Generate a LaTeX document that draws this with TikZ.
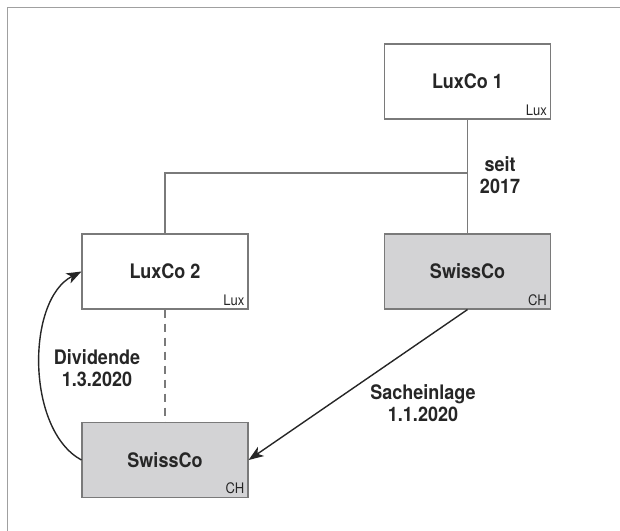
\documentclass[tikz,border=0pt]{standalone}
\usepackage{fontspec}
\setmainfont{TeX Gyre Heros}[FakeStretch=0.9]
\usetikzlibrary{arrows.meta}
\definecolor{boxline}{HTML}{7A7A7A}
\definecolor{boxgray}{HTML}{D3D3D5}
\definecolor{ink}{HTML}{262626}
\definecolor{framegray}{HTML}{A0A0A0}
\tikzset{
  company/.style={draw=boxline, line width=1.1pt, minimum width=166pt, minimum height=75pt,
    inner sep=0pt, font=\fontsize{20}{22}\selectfont\bfseries, text=ink},
  swiss/.style={company, fill=boxgray},
  lux/.style={company, fill=white},
  seat/.style={anchor=south east, inner sep=0pt, font=\fontsize{14.5}{16}\selectfont, text=ink},
  link/.style={draw=boxline, line width=1.1pt},
  flow/.style={draw=ink, line width=1.4pt, -{Stealth[length=15pt,width=11pt,inset=4pt]}},
  note/.style={align=center, font=\fontsize{20}{22.5}\selectfont\bfseries, text=ink, inner sep=0pt}
}
\begin{document}
\begin{tikzpicture}[x=1pt, y=-1pt]
  \useasboundingbox (0,0) rectangle (620,530);
  \draw[framegray, line width=1pt] (7,531) -- (7,7) -- (621,7);

  % companies
  \node[lux]   (lux1)   at (467.5, 81.5) {LuxCo 1};
  \node[lux]   (lux2)   at (165, 271.5)  {LuxCo 2};
  \node[swiss] (swissR) at (467.5, 271.5) {SwissCo};
  \node[swiss] (swissL) at (165, 460)    {SwissCo};

  % country tags
  \node[seat] at ([xshift=-4pt, yshift=4pt]lux1.south east)   {Lux};
  \node[seat] at ([xshift=-4pt, yshift=4pt]lux2.south east)   {Lux};
  \node[seat] at ([xshift=-4pt, yshift=4pt]swissR.south east) {CH};
  \node[seat] at ([xshift=-4pt, yshift=4pt]swissL.south east) {CH};

  % ownership lines
  \coordinate (fork) at (lux1.south |- 0,173);
  \draw[link] (lux1.south) -- (swissR.north);
  \draw[link] (fork) -| (lux2.north);
  \draw[link, dash pattern=on 8pt off 6pt] (lux2.south) -- (swissL.north);

  % transactions
  \draw[flow] (swissR.south) -- (swissL.east);
  \draw[flow] (swissL.west) .. controls (26,430) and (26,300) .. (lux2.west);

  % labels
  \node[note] (seit) at (500, 175) {seit\\2017};
  \node[note] (div)  at (97, 368)  {Dividende\\1.3.2020};
  \node[note] (sach) at (423, 403) {Sacheinlage\\1.1.2020};
\end{tikzpicture}
\end{document}
